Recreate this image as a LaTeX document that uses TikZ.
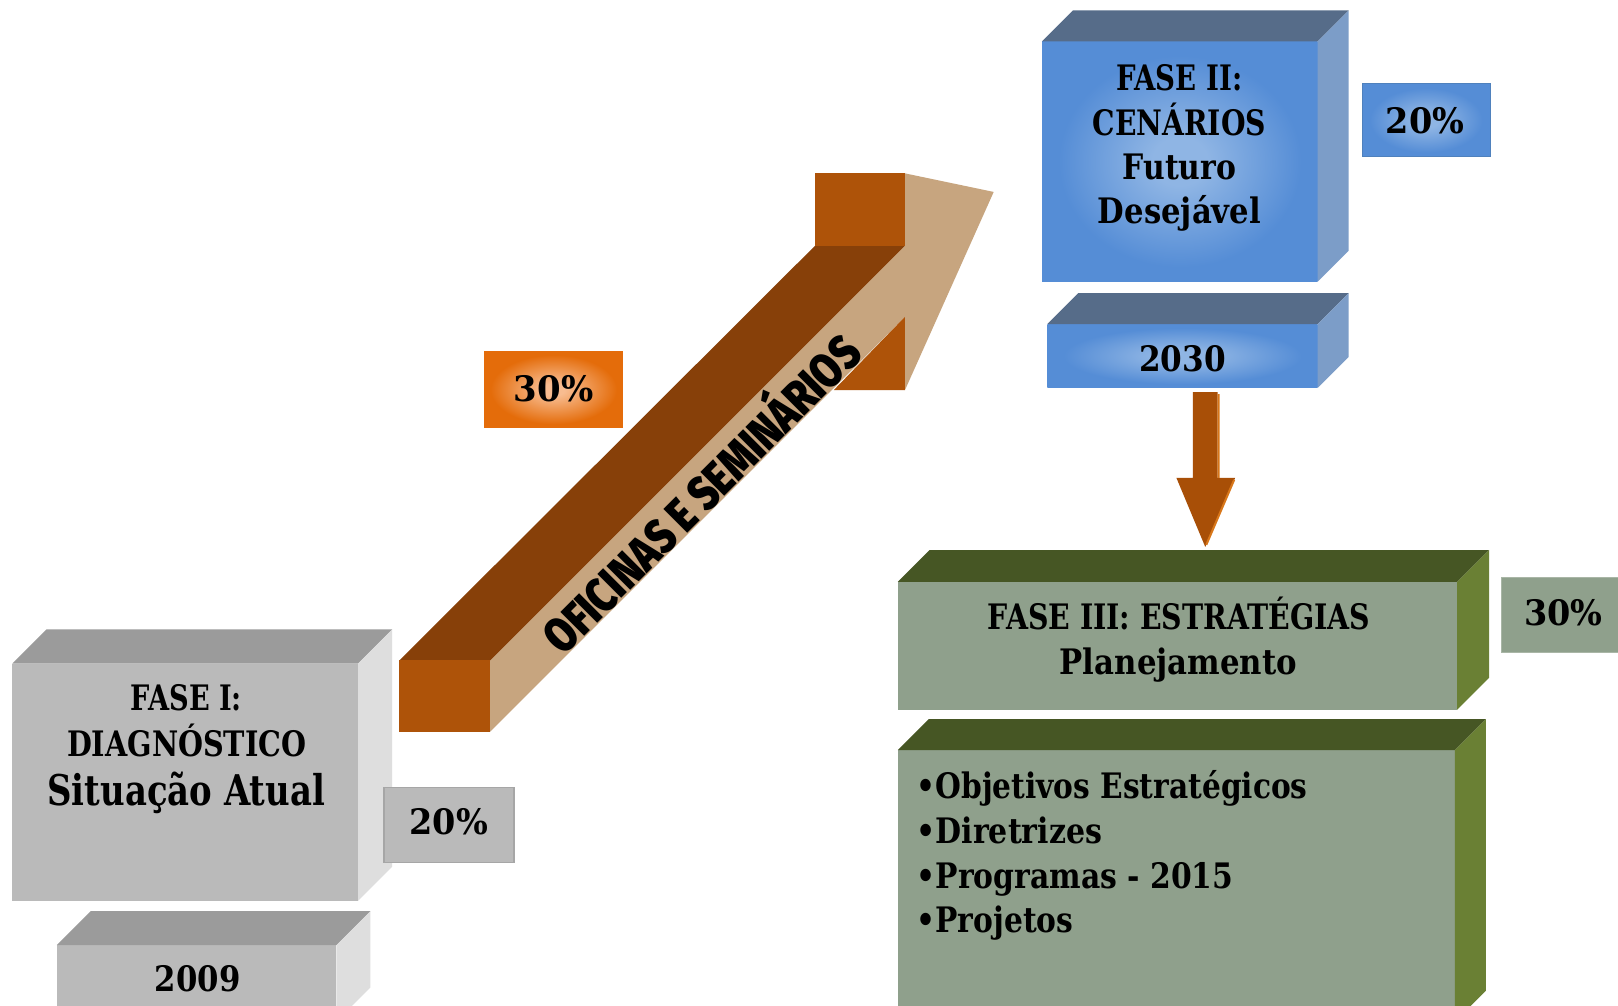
\documentclass[tikz,border=0pt]{standalone}
\usepackage{fontspec}
\usepackage{graphicx}
\setmainfont{DejaVu Serif}
\newlength\fitlen
% fit text #2 horizontally to width #1 (pt)
\newcommand\fitw[2]{\settowidth\fitlen{#2}\scalebox{\fpeval{#1/\fitlen}}[1]{#2}}
% fallback heavy weight: offset copies
\newcommand\fat[2]{\leavevmode\rlap{\kern#1#2}\rlap{\kern-#1#2}\rlap{\raisebox{#1}{#2}}\rlap{\raisebox{-#1}{#2}}#2}
\IfFontExistsTF{Fira Sans Black}
  {\newfontfamily\heavy{Fira Sans Black}\newcommand\heavytext[1]{#1}}
  {\newfontfamily\heavy[UprightFont={* Bold}]{Liberation Sans}\newcommand\heavytext[1]{\fat{1.1pt}{#1}}}
\definecolor{grayF}{HTML}{BABABA}
\definecolor{grayT}{HTML}{9B9B9B}
\definecolor{grayS}{HTML}{DEDEDE}
\definecolor{grayB}{HTML}{A6A6A6}
\definecolor{orF}{HTML}{AE5309}
\definecolor{orT}{HTML}{874009}
\definecolor{tanC}{HTML}{C7A57F}
\definecolor{blueO}{HTML}{558DD6}
\definecolor{blueC}{HTML}{8FB5E4}
\definecolor{blueT}{HTML}{566C89}
\definecolor{blueS}{HTML}{7C9DC8}
\definecolor{blueB}{HTML}{4F81BD}
\definecolor{greenF}{HTML}{8FA08C}
\definecolor{greenT}{HTML}{465624}
\definecolor{greenS}{HTML}{6A8034}
\definecolor{greenB}{HTML}{A9B6A6}
\definecolor{orgO}{HTML}{E46C0A}
\definecolor{orgC}{HTML}{F8BC90}
\definecolor{arrowD}{HTML}{A84F07}
\definecolor{arrowL}{HTML}{D8771A}
\pgfdeclareradialshading{blueglow}{\pgfpoint{0bp}{0bp}}{color(0bp)=(blueC); color(5bp)=(blueC); color(22bp)=(blueO); color(50bp)=(blueO)}
\pgfdeclareradialshading{orangeglow}{\pgfpoint{0bp}{0bp}}{color(0bp)=(orgC); color(4bp)=(orgC); color(23bp)=(orgO); color(50bp)=(orgO)}
% x1 y1 x2 y2 d frontstyle topcolor sidecolor
\newcommand\cubebox[8]{%
  \path[#6] (#1,#2) rectangle (#3,#4);
  \fill[#7] (#1,#2) -- (#1+#5,#2-#5) -- (#3+#5,#2-#5) -- (#3,#2) -- cycle;
  \fill[#8] (#3,#2) -- (#3+#5,#2-#5) -- (#3+#5,#4-#5) -- (#3,#4) -- cycle;}
\begin{document}
\begin{tikzpicture}[x=1pt,y=-1pt,line join=miter,
  lbl/.style={inner sep=0pt,anchor=base,font=\bfseries\fontsize{34}{40}\selectfont},
  lblw/.style={lbl,anchor=base west}]
\useasboundingbox (0,0) rectangle (1568,974);
\fill[white] (0,0) rectangle (1568,974);

% ---- big 3D arrow ----
\fill[tanC] (475,640) -- (877,238) -- (877,168) -- (963,186) -- (877,378) -- (877,307) -- (475,709) -- cycle;
\fill[orT] (387,640) -- (475,640) -- (877,238) -- (790,238) -- cycle;
\fill[orF] (790,168) rectangle (877,238);
\fill[orF] (877,307) -- (877,378) -- (808,378) -- cycle;
\fill[orF] (387,640) rectangle (475,709);
\node[rotate=45,inner sep=0pt,font=\heavy\fontsize{47}{47}\selectfont] (arrowtext) at (676,475) {\fitw{412}{\heavytext{OFICINAS E SEMINÁRIOS}}};

% ---- FASE I ----
\cubebox{12}{643}{347}{873}{33}{fill=grayF}{grayT}{grayS}
\cubebox{55}{916}{326}{990}{33}{fill=grayF}{grayT}{grayS}
\path[fill=grayF,draw=grayB,line width=1.5pt] (372,763) rectangle (498,836);

% ---- 30% orange ----
\path[shade,shading=orangeglow,draw=orgO,line width=1pt] (470,341) rectangle (603,414);

% ---- FASE II ----
\cubebox{1010}{40}{1277}{273}{30}{shade,shading=blueglow}{blueT}{blueS}
\cubebox{1015}{314}{1277}{376}{30}{shade,shading=blueglow}{blueT}{blueS}
\path[shade,shading=blueglow,draw=blueB,line width=1pt] (1320,81) rectangle (1444,152);

% ---- down arrow ----
\coordinate (dtop) at (1168,380);
\coordinate (dtip) at (1168,530);
\fill[arrowD] (1156,380) -- (1180,380) -- (1180,463) -- (1197,463) -- (dtip) -- (1140,463) -- (1156,463) -- cycle;
\draw[arrowL,line width=2pt] (1181,382) -- (1181,463) (1196,465) -- (1169,528);

% ---- FASE III ----
\cubebox{870}{564}{1412}{688}{31}{fill=greenF}{greenT}{greenS}
\cubebox{870}{727}{1410}{990}{30}{fill=greenF}{greenT}{greenS}
\path[fill=greenF,draw=greenB,line width=1pt] (1455,560) rectangle (1575,632);

% ---- texts ----
\node[lbl] (f1a) at (180.5,689) {\fitw{108}{FASE I:}};
\node[lbl] (f1b) at (181,733) {\fitw{232}{DIAGNÓSTICO}};
\node[lbl,font=\bfseries\fontsize{41}{45}\selectfont] (f1c) at (180.5,781) {\fitw{269}{Situação Atual}};
\node[lbl] (y09) at (191.5,961) {\fitw{83}{2009}};
\node[lbl] (p1) at (435,809) {\fitw{76}{20\%}};
\node[lbl] (p2) at (536.5,389) {\fitw{77}{30\%}};
\node[lbl] (f2a) at (1143,88) {\fitw{122}{FASE II:}};
\node[lbl] (f2b) at (1143,131) {\fitw{168}{CENÁRIOS}};
\node[lbl] (f2c) at (1143,174) {\fitw{110}{Futuro}};
\node[lbl] (f2d) at (1143,217) {\fitw{158}{Desejável}};
\node[lbl] (y30) at (1146,360) {\fitw{84}{2030}};
\node[lbl] (p3) at (1381,129) {\fitw{76}{20\%}};
\node[lbl] (f3a) at (1142.5,610) {\fitw{371}{FASE III: ESTRATÉGIAS}};
\node[lbl] (f3b) at (1142,654) {\fitw{230}{Planejamento}};
\node[lbl] (p4) at (1515,606) {\fitw{76}{30\%}};
\node[lblw] (b1) at (888,774) {\fitw{379}{•Objetivos Estratégicos}};
\node[lblw] (b2) at (888,817) {\fitw{180}{•Diretrizes}};
\node[lblw] (b3) at (888,861) {\fitw{307}{•Programas - 2015}};
\node[lblw] (b4) at (888,904) {\fitw{152}{•Projetos}};
\end{tikzpicture}
\end{document}
